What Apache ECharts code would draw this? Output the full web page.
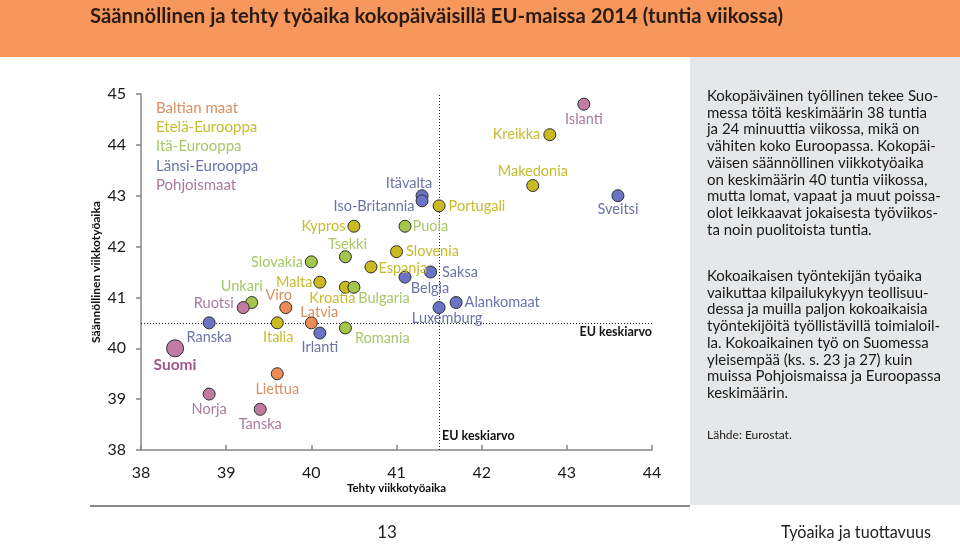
<!DOCTYPE html>
<html><head><meta charset="utf-8">
<script src="https://cdn.jsdelivr.net/npm/echarts@6/dist/echarts.min.js"></script>
<style>html,body{margin:0;padding:0;background:#fff}#c{width:960px;height:545px}</style>
</head><body><div id="c"></div>
<script>
// ---------- data ----------
const groups = ['Baltian maat', 'Etelä-Eurooppa', 'Itä-Eurooppa', 'Länsi-Eurooppa', 'Pohjoismaat'];
const countries = ['Islanti','Kreikka','Makedonia','Sveitsi','Itävalta','Iso-Britannia','Portugali','Kypros','Puola','Tsekki','Slovenia','Slovakia','Espanja','Saksa','Belgia','Malta','Unkari','Viro','Kroatia','Bulgaria','Ruotsi','Alankomaat','Latvia','Luxemburg','Ranska','Italia','Irlanti','Romania','Suomi','Liettua','Norja','Tanska'];
const countryGroup = [4,1,1,3,3,3,1,1,2,2,1,2,1,3,3,1,2,0,1,2,4,3,0,3,3,1,3,2,4,0,4,4];
const tehtyViikkotyoaika = [43.2,42.8,42.6,43.6,41.3,41.3,41.5,40.5,41.1,40.4,41.0,40.0,40.7,41.4,41.1,40.1,39.3,39.7,40.4,40.5,39.2,41.7,40.0,41.5,38.8,39.6,40.1,40.4,38.4,39.6,38.8,39.4];
const saannollinenViikkotyoaika = [44.8,44.2,43.2,43.0,43.0,42.9,42.8,42.4,42.4,41.8,41.9,41.7,41.6,41.5,41.4,41.3,40.9,40.8,41.2,41.2,40.8,40.9,40.5,40.8,40.5,40.5,40.3,40.4,40.0,39.5,39.1,38.8];
const euTehty = 41.5;
const euSaannollinen = 40.5;
const euLabel = 'EU keskiarvo';

// ---------- styles ----------
const dotColors = ['#EC8B55', '#CBB920', '#A3C64B', '#6A73C4', '#C27C9F'];
const labelColors = ['#D98F60', '#C6BC2E', '#A7C868', '#6C73A8', '#A97B9B'];
// label placement per country: [position, dx, dy]
const labelPlace = {
  'Islanti':['bottom',0,-4],'Kreikka':['left',2,0],'Makedonia':['top',0,5],'Sveitsi':['bottom',0,-5],
  'Itävalta':['top',-13,7],'Iso-Britannia':['left',4,6],'Portugali':['right',-2,0],'Kypros':['left',3,0],
  'Puola':['right',-4,0],'Tsekki':['top',2,7],'Slovenia':['right',-2,0],'Slovakia':['left',3,0],
  'Espanja':['right',-4,1],'Saksa':['right',0,0],'Belgia':['bottom',25,-8],'Malta':['left',4,0],
  'Unkari':['top',-10,3],'Viro':['top',-7,7],'Kroatia':['bottom',-13,-8],'Bulgaria':['bottom',30,-8],
  'Ruotsi':['left',2,-4],'Alankomaat':['right',-3,0],'Latvia':['top',8,8],'Luxemburg':['bottom',8,-8],
  'Ranska':['bottom',0,-5],'Italia':['bottom',1,-5],'Irlanti':['bottom',0,-5],'Romania':['right',-2,10],
  'Suomi':['bottom',0,-5],'Liettua':['bottom',0,-3],'Norja':['bottom',0,-4],'Tanska':['bottom',0,-4]
};
const FONT = 'Lato';

const chart = echarts.init(document.getElementById('c'), null, {renderer: 'canvas'});

const series = groups.map((g, gi) => {
  const data = [];
  countries.forEach((name, i) => {
    if (countryGroup[i] !== gi) return;
    const p = labelPlace[name];
    const isFi = name === 'Suomi';
    data.push({
      name: name,
      value: [tehtyViikkotyoaika[i], saannollinenViikkotyoaika[i]],
      symbolSize: isFi ? 17 : 12,
      label: {
        show: true, position: p[0], offset: [p[1], p[2]], formatter: name,
        color: isFi ? '#A0578B' : labelColors[gi],
        fontWeight: isFi ? 'bold' : 'normal',
        fontSize: isFi ? 15.5 : 14.5, fontFamily: FONT
      }
    });
  });
  const s = {
    type: 'scatter', name: g, data: data, z: 3,
    itemStyle: {color: dotColors[gi], borderColor: '#2e2e2e', borderWidth: 1, opacity: 1},
    emphasis: {disabled: true}
  };
  if (gi === 0) {
    s.markLine = {
      silent: true, symbol: ['none', 'none'], animation: false, z: 1,
      lineStyle: {type: [1, 2], color: '#1e1e1e', width: 1},
      label: {show: false},
      data: [{xAxis: euTehty}, {yAxis: euSaannollinen}]
    };
  }
  return s;
});

const axisColor = '#868686';
const legendText = {fontSize: 15, fontFamily: FONT, lineHeight: 17};
const option = {
  animation: false,
  backgroundColor: '#ffffff',
  textStyle: {fontFamily: FONT},
  grid: {left: 141, right: 308, top: 94, bottom: 95},
  legend: {
    orient: 'vertical', left: 150, top: 99.5, selectedMode: false, padding: 0,
    itemWidth: 0, itemHeight: 14, itemGap: 2.3, icon: 'circle',
    itemStyle: {opacity: 0},
    data: groups.map((g, gi) => ({name: g, textStyle: Object.assign({color: labelColors[gi]}, legendText)})),
    textStyle: legendText
  },
  xAxis: {
    type: 'value', min: 38, max: 44, interval: 1, splitLine: {show: false},
    axisLine: {lineStyle: {color: axisColor, width: 1.5}},
    axisTick: {inside: true, length: 5, lineStyle: {color: axisColor, width: 1.5}},
    axisLabel: {color: '#1a1a1a', fontSize: 16, margin: 15, fontFamily: FONT},
    name: 'Tehty viikkotyöaika', nameLocation: 'middle', nameGap: 32, nameMoveOverlap: false,
    nameTextStyle: {fontWeight: 'bold', fontSize: 11.5, color: '#111', fontFamily: FONT}
  },
  yAxis: {
    type: 'value', min: 38, max: 45, interval: 1, splitLine: {show: false},
    axisLine: {show: true, lineStyle: {color: axisColor, width: 1.5}},
    axisTick: {show: true, length: 5, lineStyle: {color: axisColor, width: 1.5}},
    axisLabel: {color: '#1a1a1a', fontSize: 16, margin: 15, fontFamily: FONT},
    name: 'Säännöllinen viikkotyöaika', nameLocation: 'middle', nameGap: 39, nameRotate: 90, nameMoveOverlap: false,
    nameTextStyle: {fontWeight: 'bold', fontSize: 12, color: '#111', fontFamily: FONT}
  },
  series: series
};
chart.setOption(option);

// ---------- page furniture ----------
const title = 'Säännöllinen ja tehty työaika kokopäiväisillä EU-maissa 2014 (tuntia viikossa)';
const titleFont = 'bold 20px ' + FONT;
const ctx = document.createElement('canvas').getContext('2d');
ctx.font = titleFont;
const titleScale = 693 / ctx.measureText(title).width;
const footFont = '17px ' + FONT;
ctx.font = footFont;
const footScale = 150 / ctx.measureText('Työaika ja tuottavuus').width;

const para1 = ['Kokopäiväinen työllinen tekee Suo-','messa töitä keskimäärin 38 tuntia','ja 24 minuuttia viikossa, mikä on','vähiten koko Euroopassa. Kokopäi-','väisen säännöllinen viikkotyöaika','on keskimäärin 40 tuntia viikossa,','mutta lomat, vapaat ja muut poissa-','olot leikkaavat jokaisesta työviikos-','ta noin puolitoista tuntia.'];
const para2 = ['Kokoaikaisen työntekijän työaika','vaikuttaa kilpailukykyyn teollisuu-','dessa ja muilla paljon kokoaikaisia','työntekijöitä työllistävillä toimialoil-','la. Kokoaikainen työ on Suomessa','yleisempää (ks. s. 23 ja 27) kuin','muissa Pohjoismaissa ja Euroopassa','keskimäärin.'];
const source = 'Lähde: Eurostat.';

ctx.font = '14px ' + FONT;
const paraSize = Math.round(14 * 231 / ctx.measureText(para1[0]).width * 10) / 10;
const paraFont = paraSize + 'px ' + FONT;

const hEnd = chart.convertToPixel({gridIndex: 0}, [44, euSaannollinen]);
const vBot = chart.convertToPixel({gridIndex: 0}, [euTehty, 38]);

chart.setOption({
  graphic: [
    {type: 'rect', z: -10, shape: {x: 0, y: 0, width: 960, height: 57}, style: {fill: '#F7975B'}},
    {type: 'text', z: 10, x: 90, y: 17, scaleX: titleScale, style: {text: title, font: titleFont, fill: '#2a1c14', textVerticalAlign: 'middle'}},
    {type: 'rect', z: -10, shape: {x: 690, y: 57, width: 270, height: 448}, style: {fill: '#E6E7E8'}},
    {type: 'rect', z: -10, shape: {x: 90, y: 505, width: 600, height: 2}, style: {fill: '#8a8a8a'}},
    {type: 'text', x: 707, y: 87.6, style: {text: para1.join('\n'), font: paraFont, lineHeight: 16.75, fill: '#1a1a1a', textVerticalAlign: 'top'}},
    {type: 'text', x: 707, y: 267.6, style: {text: para2.join('\n'), font: paraFont, lineHeight: 16.75, fill: '#1a1a1a', textVerticalAlign: 'top'}},
    {type: 'text', x: 707, y: 435, style: {text: source, font: '12px ' + FONT, fill: '#1a1a1a', textVerticalAlign: 'middle'}},
    {type: 'text', x: hEnd[0], y: hEnd[1] + 9.5, style: {text: euLabel, font: 'bold 12.5px ' + FONT, fill: '#111', textAlign: 'right', textVerticalAlign: 'middle'}},
    {type: 'text', x: vBot[0] + 3, y: vBot[1] - 14, style: {text: euLabel, font: 'bold 12.5px ' + FONT, fill: '#111', textAlign: 'left', textVerticalAlign: 'middle'}},
    {type: 'text', x: 387, y: 533, style: {text: '13', font: footFont, fill: '#1e1e1e', textAlign: 'center', textVerticalAlign: 'middle'}},
    {type: 'text', x: 931, y: 533, scaleX: footScale, style: {text: 'Työaika ja tuottavuus', font: footFont, fill: '#1e1e1e', textAlign: 'right', textVerticalAlign: 'middle'}}
  ]
});
</script></body></html>
